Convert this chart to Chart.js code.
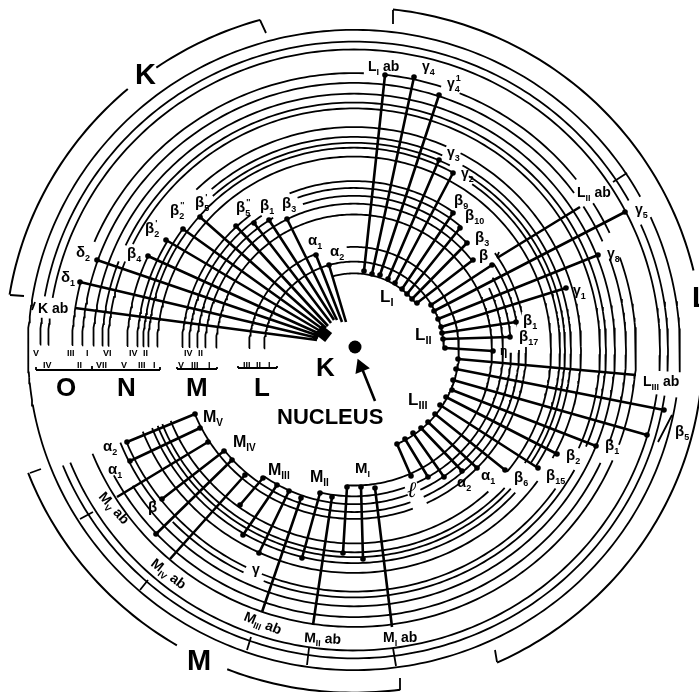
<!DOCTYPE html>
<html>
<head>
<meta charset="utf-8">
<title>X-ray levels</title>
<script src="https://cdn.jsdelivr.net/npm/chart.js@4/dist/chart.umd.min.js"></script>
<style>
html, body { margin: 0; padding: 0; background: #fff; }
canvas { display: block; }
</style>
</head>
<body>
<canvas id="myChart" width="699" height="692"></canvas>
<script>
// values: x, y are picture positions, shells are [radius, fromAngle, toAngle]
var centerX = 354, centerY = 350, squash = 0.982;

var shellArcs = [
  [326,185,28.6],[326,24.5,-4],[326,-8.5,-175],
  [314,179,174],[314,170,29],[314,24,-4],[314,-8.5,-158],
  [306,179,174],[306,170,-4],[306,-8.5,-158],
  [282,179,166],[282,157,88],[282,84,72],[282,68,38],[282,32,25],[282,19.5,-20],[282,-23.5,-158],
  [272,179,36],[272,32.5,24],[272,20,-20],[272,-25,-152],
  [261,179,-148],
  [252,179,159],[252,155,-23],[252,-29,-111],[252,-116,-136],[252,-142,-158],
  [246,179,158.5],[246,154,-24],[246,-35,-112],[246,-116,-158],
  [227,179,155],[227,134,66],[227,62,-29],[227,-36,-158.5],
  [217,179,149],[217,131,66],[217,60,-33],[217,-42,-158.5],
  [211,179,144],[211,132,63],[211,57,-33],[211,-42,-158.5],
  [206,179,61],[206,55,-34],[206,-43,-158.5],
  [197,179,-39],[197,-47,-158.5],
  [172,179,127],[172,112,54.7],[172,35,13],[172,1,-65],[172,-70,-158],
  [165,179,124],[165,110,49.5],[165,32,10],[165,0,-65],[165,-70,-141.6],
  [157,179,121],[157,109,44],[157,28,5],[157,-1,-65],[157,-70,-124.7],
  [149,179,37.7],[149,25,-65],[149,-70,-103],
  [138,179,-93],
  [105,179,111],[105,94,-66],
  [90,179,0],
  [78,106,38]
];
var bracketArcs = [
  [349,170.7,130.4],[349,124.5,105.6],
  [349,83.6,13.4],[349,-7,-65.8],
  [349,-159,-120.5],[349,-111.3,-82.4]
];
// outerX, outerY, innerX, innerY, 1 when the outer end has no dot
var kLines = [
  [75,308,317,340,1],[80,282,318,338],[97,260,319,336],[148,256,320,334],
  [166,240,322,332],[183,229,324,330],[200,217,326,328],[236,226,328,326],
  [254,223,331,323],[269,220,334,320],[287,219,337,320],[316,255,342,322],[329,265,346,322]
];
var lOneLines = [
  [385,75,364,271],[414,77,372,274],[439,95,380,275],[439,160,388,279],[453,173,395,283],
  [453,213,402,289],[460,228,407,294],[467,243,412,299],[473,260,417,303]
];
var lTwoLines = [
  [492,265,431,305],[625,212,434,311],[598,255,438,319],[566,288,441,327],
  [516,322,442,333],[510,337,443,339],[493,351,445,348]
];
var lThreeLines = [
  [636,375,458,359,1],[664,410,456,369],[647,435,453,380],[596,446,452,390],
  [557,454,446,397],[538,468,440,405],[505,470,435,414],[477,468,428,422],
  [462,471,421,428],[444,477,413,433],[428,477,405,439],[411,476,397,444]
];
var mLines = [
  [127,442,195,414],[130,461,200,428],[117,497,208,442,1],
  [162,499,224,451],[156,534,232,460],[170,559,245,475,1],
  [240,505,263,478],[243,535,277,485],[259,553,289,491],[262,612,301,498,1],
  [302,558,320,493],[313,625,332,497,1],[343,553,347,487],[363,559,361,487],[392,627,375,488,1]
];
var heavyLines = [
  [580,207,497,258],
  [375,401,361,366]
];
var plainLines = [
  [613,182,627,173],[80,519,93,512],[140,590,148,580],[247,650,251,637],[307,665,309,648],[396,666,393,648],
  [32,310,35,302],[658,442,672,415],[497,257,499,252],
  [10,295,24,296],[260,20,266,33],[393,10,393,24],[495,650,497,662],[30,473,41,469],[400,678,400,690],
  [36,367,36,370],[36,370,92,370],[92,370,92,366],[92,370,160,370],[160,370,160,367],
  [177,367,177,369],[177,369,217,369],[217,369,217,367],[238,366,238,368],[238,368,277,368],[277,368,277,366]
];
// text, left x, baseline y, size, subscript, superscript, rotation
var bigLabels = [
  ["K",135,84,29],["L",692,307,29],["M",187,670,29],["K",316,376,26],
  ["O",56,396,26],["N",117,396,26],["M",186,396,26],["L",254,396,26],
  ["NUCLEUS",277,424,22]
];
var levelLabels = [
  ["L",380,302,17,"I"],["L",415,340,17,"II"],["L",408,405,17,"III"],
  ["M",355,473,15,"I"],["M",310,482,16,"II"],["M",268,475,16,"III"],["M",233,447,16,"IV"],["M",203,422,16,"V"],
  ["K ab",38,313,14],
  ["L",368,71,14,"I"," ab"],["L",577,197,14,"II"," ab"],["L",643,386,14,"III"," ab"],
  ["M",383,642,14,"I"," ab"],["M",304,642,14,"II"," ab",3],["M",243,620,14,"III"," ab",22],
  ["M",150,565,14,"IV"," ab",38],["M",98,497,14,"V"," ab",48]
];
var lineLabels = [
  ["δ",76,257,15,"2"],["δ",61,282,15,"1"],["β",127,258,15,"4"],["β",145,233,15,"2","'"],["β",170,215,15,"2","''"],
  ["β",195,207,15,"5","'"],["β",236,212,15,"5","''"],["β",260,210,15,"1"],["β",282,208,15,"3"],
  ["α",308,245,15,"1"],["α",330,256,15,"2"],
  ["γ",422,71,14,"4"],["γ",447,88,14,"4","1"],["γ",447,157,14,"3"],["γ",461,178,14,"2"],
  ["β",454,205,15,"9"],["β",465,220,15,"10"],["β",475,242,15,"3"],["β",479,260,15],
  ["γ",635,214,14,"5"],["γ",607,258,14,"8"],["γ",573,295,14,"1"],
  ["β",523,325,15,"1"],["β",519,341,15,"17"],["η",500,355,12],
  ["β",675,436,15,"5"],["β",605,450,15,"1"],["β",566,460,15,"2"],["β",546,480,15,"15"],["β",514,482,15,"6"],
  ["α",481,480,15,"1"],["α",457,487,15,"2"],
  ["α",103,451,15,"2"],["α",108,474,15,"1"],["β",148,512,15],["γ",252,574,14]
];
var romanRowOne = [["V",37],["III",71],["I",90],["VI",107],["IV",133],["II",147],["IV",188],["II",202]];
var romanRowTwo = [["IV",47],["II",81],["VII",100],["V",125],["III",142],["I",157],["V",182],["III",195],["I",212],["III",247],["II",260],["I",272]];

function arcPoints(rows) {
  var pts = [];
  rows.forEach(function(row) {
    var steps = Math.ceil(Math.abs(row[1] - row[2]));
    for (var i = 0; i <= steps; i++) {
      var a = (row[1] + (row[2] - row[1]) * i / steps) * Math.PI / 180;
      pts.push({x: centerX + row[0] * Math.cos(a), y: centerY - squash * row[0] * Math.sin(a)});
    }
    pts.push({x: null, y: null});
  });
  return pts;
}

function linePoints(rows) {
  var pts = [];
  rows.forEach(function(row) {
    pts.push({x: row[0], y: row[1]}, {x: row[2], y: row[3]}, {x: null, y: null});
  });
  return pts;
}

function dotPoints(rows, withInner) {
  var pts = [];
  rows.forEach(function(row) {
    if (!row[4]) pts.push({x: row[0], y: row[1]});
    if (withInner) pts.push({x: row[2], y: row[3]});
  });
  return pts;
}

function lineSet(data, width) {
  return {data: data, showLine: true, borderColor: "#000", borderWidth: width, pointRadius: 0, spanGaps: false};
}

function dotSet(data, radius) {
  return {data: data, showLine: false, pointRadius: radius, backgroundColor: "#000", borderColor: "#000", borderWidth: 0};
}

var allSpokes = kLines.concat(lOneLines, lTwoLines, lThreeLines, mLines, heavyLines);

var textPlugin = {
  id: "diagramText",
  afterDatasetsDraw: function(chart) {
    var ctx = chart.ctx, sx = chart.scales.x, sy = chart.scales.y;
    function put(row, weight) {
      var size = row[3];
      ctx.save();
      ctx.translate(sx.getPixelForValue(row[1]), sy.getPixelForValue(row[2]));
      if (row[6]) ctx.rotate(row[6] * Math.PI / 180);
      ctx.fillStyle = "#000";
      ctx.textAlign = "left";
      ctx.textBaseline = "alphabetic";
      ctx.font = weight + " " + size + "px 'Liberation Sans'";
      ctx.fillText(row[0], 0, 0);
      var w = ctx.measureText(row[0]).width;
      var w2 = 0;
      if (row[4]) {
        ctx.font = weight + " " + Math.round(size * 0.62) + "px 'Liberation Sans'";
        ctx.fillText(row[4], w, size * 0.25);
        w2 = ctx.measureText(row[4]).width;
      }
      if (row[5]) {
        if (row[5].charAt(0) === " ") {
          ctx.font = weight + " " + size + "px 'Liberation Sans'";
          ctx.fillText(row[5], w + w2, 0);
        } else {
          ctx.font = weight + " " + Math.round(size * 0.62) + "px 'Liberation Sans'";
          ctx.fillText(row[5], w + 1, -size * 0.5);
        }
      }
      ctx.restore();
    }
    bigLabels.forEach(function(r) { put(r, "bold"); });
    levelLabels.forEach(function(r) { put(r, "bold"); });
    lineLabels.forEach(function(r) { put(r, "bold"); });
    romanRowOne.forEach(function(r) { put([r[0], r[1] - 4, 356, 9], "bold"); });
    romanRowTwo.forEach(function(r) { put([r[0], r[1] - 4, 368, 9], "bold"); });
    // the little script l next to the L III spokes
    ctx.save();
    ctx.fillStyle = "#000";
    ctx.font = "italic 22px 'Liberation Serif'";
    ctx.fillText("ℓ", sx.getPixelForValue(407), sy.getPixelForValue(497));
    ctx.restore();
  }
};

new Chart("myChart", {
  type: "scatter",
  data: {
    datasets: [
      lineSet(arcPoints(shellArcs), 1.8),
      lineSet(arcPoints(bracketArcs), 2),
      lineSet(linePoints(allSpokes), 2.6),
      lineSet(linePoints(plainLines), 1.8),
      lineSet(linePoints([[320,338,327,329]]), 13),
      dotSet(dotPoints(kLines, false), 2.8),
      dotSet(dotPoints(lOneLines.concat(lTwoLines, lThreeLines, mLines), true), 2.8),
      dotSet([{x: 355, y: 347}], 6.5),
      {data: [{x: 361, y: 367}], showLine: false, pointStyle: "triangle", pointRadius: 9, rotation: -22,
       backgroundColor: "#000", borderColor: "#000", borderWidth: 0}
    ]
  },
  options: {
    responsive: false,
    animation: false,
    events: [],
    layout: {padding: 0, autoPadding: false},
    plugins: {legend: {display: false}, tooltip: {enabled: false}, title: {display: false}},
    scales: {
      x: {type: "linear", min: 0, max: 699, display: false},
      y: {type: "linear", min: 0, max: 692, reverse: true, display: false}
    }
  },
  plugins: [textPlugin]
});
</script>
</body>
</html>
